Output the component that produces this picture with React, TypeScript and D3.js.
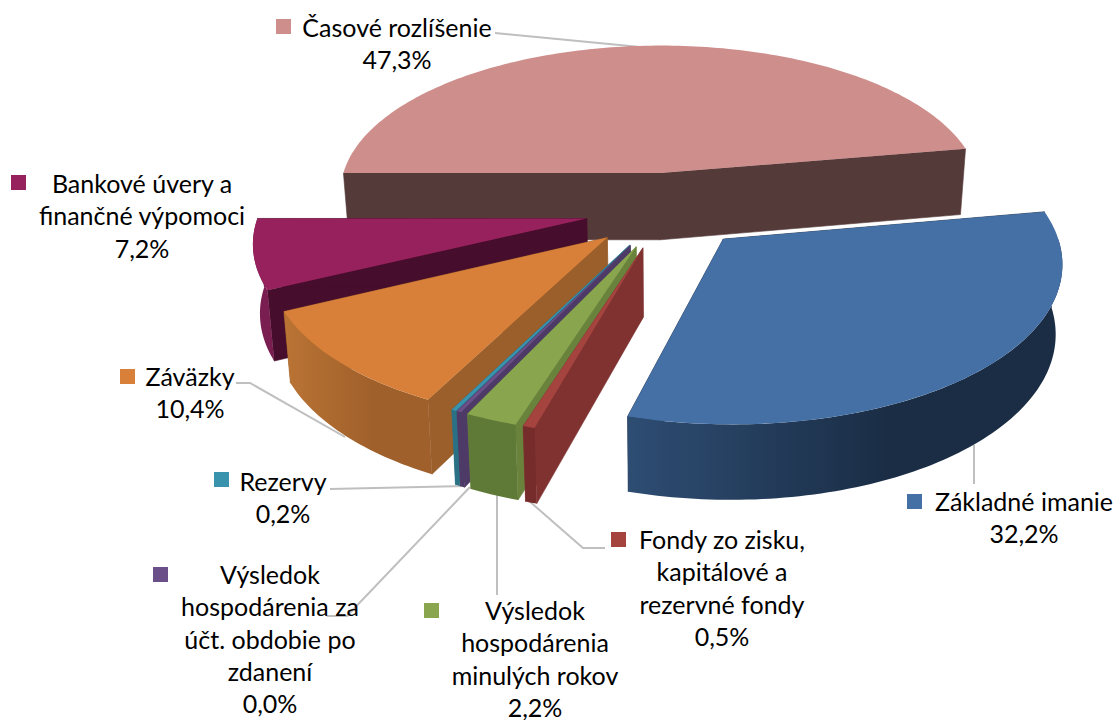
import React from 'react';
import * as d3 from 'd3';

// pie data, in drawing order round the pie
const categories = [
  'Základné imanie',
  'Fondy zo zisku, kapitálové a rezervné fondy',
  'Výsledok hospodárenia minulých rokov',
  'Výsledok hospodárenia za účt. obdobie po zdanení',
  'Rezervy',
  'Záväzky',
  'Bankové úvery a finančné výpomoci',
  'Časové rozlíšenie',
];
const values = [32.2, 0.5, 2.2, 0.0, 0.2, 10.4, 7.2, 47.3];
const percentLabels = ['32,2%', '0,5%', '2,2%', '0,0%', '0,2%', '10,4%', '7,2%', '47,3%'];
const labelLines = [
  ['Základné imanie'],
  ['Fondy zo zisku,', 'kapitálové a', 'rezervné fondy'],
  ['Výsledok', 'hospodárenia', 'minulých rokov'],
  ['Výsledok', 'hospodárenia za', 'účt. obdobie po', 'zdanení'],
  ['Rezervy'],
  ['Záväzky'],
  ['Bankové úvery a', 'finančné výpomoci'],
  ['Časové rozlíšenie'],
];

// colours per slice: top, radial wall, outer wall left/right, legend key
const topColors = ['#4570A6', '#A5433F', '#89A64F', '#6A4F88', '#3A93AD', '#D8803A', '#96215C', '#CE8E8C'];
const wallColors = ['#1A2D45', '#7F3230', '#6A833C', '#4E3A66', '#2B7185', '#9A5F2B', '#470D2C', '#553A3A'];
const outerLeft = ['#2E4D73', '#762C2A', '#5F7A36', '#4E3A66', '#2B7185', '#BA7434', '#7A1D50', '#553A3A'];
const outerRight = ['#1A2D45', '#762C2A', '#5F7A36', '#4E3A66', '#2B7185', '#A0602B', '#7A1D50', '#553A3A'];
const drawOrder = [7, 6, 5, 4, 3, 2, 1, 0];

const width = 1115;
const height = 720;

// fake 3d camera
const cx = 667;
const cy = 210;
const Rx = 327;
const Ry = 153;
const persp = 0.13;
const depth = 68;
const explode = 0.25;
const startDeg = 80;

function project(u: number, v: number, z: number): [number, number] {
  const f = 1 / (1 - persp * v);
  // lower edge sits further from the camera, so it comes in a little
  return [cx + Rx * u * f * (1 - z * 0.00025), cy + Ry * v * f + z * (1 + (f - 1) * 0.6)];
}

const pie = d3
  .pie<number>()
  .sort(null)
  .value((d) => Math.max(d, 0.2)) // zero slice still shows as a sliver
  .startAngle((startDeg * Math.PI) / 180)
  .endAngle((startDeg * Math.PI) / 180 + 2 * Math.PI);

const line = d3.line();

function arcPoints(a0: number, a1: number, ox: number, oy: number, z: number) {
  const n = Math.max(2, Math.ceil(Math.abs(a1 - a0) / 0.02));
  const pts: [number, number][] = [];
  for (let i = 0; i <= n; i++) {
    const a = a0 + ((a1 - a0) * i) / n;
    pts.push(project(ox + Math.sin(a), oy - Math.cos(a), z));
  }
  return pts;
}

function slicePaths(d: d3.PieArcDatum<number>) {
  const mid = (d.startAngle + d.endAngle) / 2;
  const ox = explode * Math.sin(mid);
  const oy = -explode * Math.cos(mid);
  const apexTop = project(ox, oy, 0);
  const apexBot = project(ox, oy, depth);
  const top = line([apexTop, ...arcPoints(d.startAngle, d.endAngle, ox, oy, 0)]) + 'Z';
  const s0 = arcPoints(d.startAngle, d.startAngle, ox, oy, 0)[0];
  const s1 = arcPoints(d.startAngle, d.startAngle, ox, oy, depth)[0];
  const e0 = arcPoints(d.endAngle, d.endAngle, ox, oy, 0)[0];
  const e1 = arcPoints(d.endAngle, d.endAngle, ox, oy, depth)[0];
  const walls = line([apexTop, s0, s1, apexBot]) + 'Z' + line([apexTop, e0, e1, apexBot]) + 'Z';
  // outer wall only on the part of the rim facing the viewer
  const lo = Math.PI / 2;
  const hi = (3 * Math.PI) / 2;
  const a0 = Math.max(d.startAngle, lo);
  const a1 = Math.min(d.endAngle, hi);
  let outer = '';
  if (a1 > a0) {
    outer =
      line([
        ...arcPoints(a0, a1, ox, oy, 0),
        ...arcPoints(a1, a0, ox, oy, depth),
      ]) + 'Z';
  }
  return { top, walls, outer };
}

// where the labels sit, same order as categories
const labelLayout = [
  { key: [907, 494], x: 1024, y: 502 },
  { key: [611, 532], x: 722, y: 540 },
  { key: [424, 603], x: 535, y: 611 },
  { key: [153, 567], x: 270, y: 575 },
  { key: [214, 472], x: 283, y: 482 },
  { key: [120, 369], x: 190, y: 377 },
  { key: [11, 175], x: 142, y: 184 },
  { key: [276, 19], x: 397, y: 28 },
];
const lineStep = 32.4;

const leaders: [number, number][][] = [
  [[974, 445], [974, 484]],
  [[528, 500], [583, 548], [605, 548]],
  [[497, 490], [497, 595]],
  [[470, 487], [347, 616], [327, 616]],
  [[330, 489], [466, 486]],
  [[236, 383], [250, 383], [345, 437]],
  [],
  [[495, 33], [640, 47]],
];

export default function App() {
  const arcs = pie(values);
  return (
    <svg
      width={width}
      height={height}
      style={{ position: 'absolute', left: 0, top: 0, background: '#fff' }}
      fontFamily="Lato, 'Open Sans', sans-serif"
    >
      <defs>
        {categories.map((c, i) => (
          <linearGradient key={c} id={'outer' + i} x1="0" x2="1" y1="0" y2="0">
            <stop offset="0" stopColor={outerLeft[i]} />
            <stop offset="0.6" stopColor={outerRight[i]} />
          </linearGradient>
        ))}
      </defs>
      {leaders.map((l, i) =>
        l.length ? (
          <path key={i} d={line(l) || ''} fill="none" stroke="#BFBFBF" strokeWidth={2} />
        ) : null
      )}
      {drawOrder.map((i) => {
        const p = slicePaths(arcs[i]);
        return (
          <g key={categories[i]}>
            <path d={p.walls} fill={wallColors[i]} stroke={wallColors[i]} strokeWidth={0.6} />
            {p.outer && <path d={p.outer} fill={`url(#outer${i})`} />}
            <path d={p.top} fill={topColors[i]} />
          </g>
        );
      })}
      {categories.map((c, i) => {
        const l = labelLayout[i];
        const rows = [...labelLines[i], percentLabels[i]];
        return (
          <g key={c}>
            <rect x={l.key[0]} y={l.key[1]} width={15} height={15} fill={topColors[i]} />
            {rows.map((t, j) => (
              <text
                key={j}
                x={l.x}
                y={l.y + j * lineStep}
                dy="0.35em"
                textAnchor="middle"
                fontSize={25}
                fill="#000"
              >
                {t}
              </text>
            ))}
          </g>
        );
      })}
    </svg>
  );
}
